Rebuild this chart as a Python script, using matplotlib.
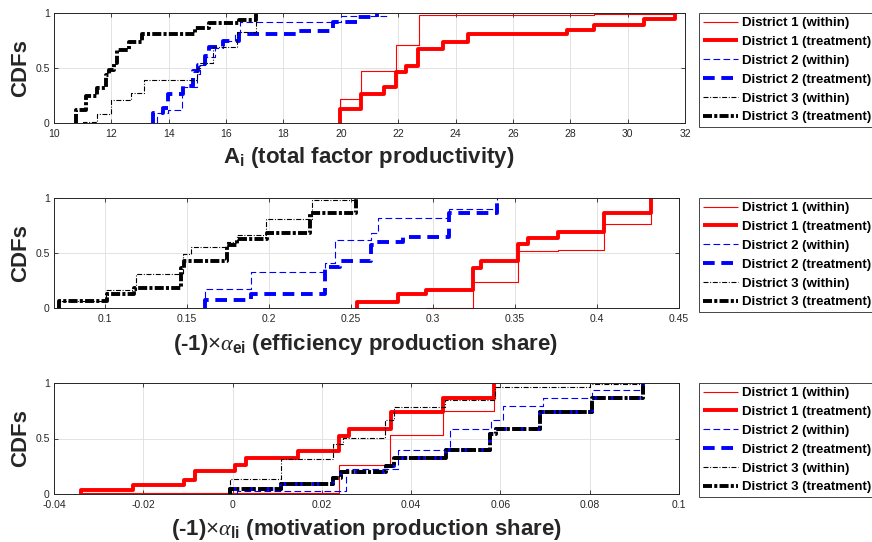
import numpy as np
import matplotlib
matplotlib.use('Agg')
import matplotlib.pyplot as plt

plt.rcParams['font.family'] = ['Liberation Sans', 'DejaVu Sans']
plt.rcParams['mathtext.fontset'] = 'custom'
plt.rcParams['mathtext.rm'] = 'Liberation Sans'
plt.rcParams['mathtext.bf'] = 'Liberation Sans:bold'
plt.rcParams['mathtext.it'] = 'Liberation Serif:italic'
plt.rcParams['lines.scale_dashes'] = False

labels = ['District 1 (within)', 'District 1 (treatment)',
          'District 2 (within)', 'District 2 (treatment)',
          'District 3 (within)', 'District 3 (treatment)']

# ---- panel 1 : A_i (total factor productivity)
tfp_d1_within_x = [19.97, 20.72, 21.92, 22.72, 28.84, 31.65]
tfp_d1_within_y = [0.22, 0.47, 0.71, 0.985, 0.995, 1.0]
tfp_d1_treat_x = [19.97, 20.72, 21.50, 21.94, 22.26, 22.70, 23.57, 24.44, 27.87, 28.84, 30.58, 31.65]
tfp_d1_treat_y = [0.13, 0.26, 0.33, 0.46, 0.52, 0.67, 0.74, 0.81, 0.85, 0.89, 0.95, 1.0]
tfp_d2_within_x = [13.60, 13.98, 14.45, 14.97, 15.08, 15.30, 15.60, 15.90, 16.30, 16.50, 20.00, 21.60]
tfp_d2_within_y = [0.09, 0.12, 0.33, 0.45, 0.53, 0.60, 0.68, 0.75, 0.82, 0.92, 0.97, 1.0]
tfp_d2_treat_x = [13.46, 13.80, 13.98, 14.50, 14.85, 15.02, 15.25, 15.40, 15.90, 16.45, 18.45, 19.73, 20.60, 21.26]
tfp_d2_treat_y = [0.09, 0.14, 0.26, 0.34, 0.47, 0.53, 0.61, 0.69, 0.75, 0.81, 0.84, 0.92, 0.96, 1.0]
tfp_d3_within_x = [11.00, 11.51, 11.98, 12.67, 13.14, 14.99, 15.10, 15.55, 16.38, 17.06]
tfp_d3_within_y = [0.01, 0.08, 0.21, 0.27, 0.39, 0.50, 0.545, 0.69, 0.83, 1.0]
tfp_d3_treat_x = [10.76, 11.10, 11.51, 11.80, 11.92, 12.09, 12.20, 12.61, 13.08, 14.93, 15.40, 16.44, 17.06]
tfp_d3_treat_y = [0.12, 0.25, 0.32, 0.44, 0.48, 0.545, 0.667, 0.736, 0.81, 0.86, 0.91, 0.94, 1.0]

# ---- panel 2 : efficiency production share
eff_d1_within_x = [0.2959, 0.3245, 0.3520, 0.3765, 0.4040, 0.4327]
eff_d1_within_y = [0.0, 0.24, 0.52, 0.53, 0.764, 1.0]
eff_d1_treat_x = [0.2535, 0.2786, 0.2959, 0.3245, 0.3296, 0.3520, 0.3580, 0.3765, 0.4040, 0.4327]
eff_d1_treat_y = [0.058, 0.127, 0.164, 0.36, 0.427, 0.579, 0.64, 0.688, 0.86, 1.0]
eff_d2_within_x = [0.1610, 0.1890, 0.2343, 0.2403, 0.2625, 0.2665, 0.3100, 0.3390]
eff_d2_within_y = [0.176, 0.327, 0.41, 0.62, 0.685, 0.82, 0.90, 1.0]
eff_d2_treat_x = [0.1610, 0.1890, 0.2343, 0.2433, 0.2625, 0.2653, 0.2820, 0.3100, 0.3390]
eff_d2_treat_y = [0.07, 0.13, 0.37, 0.424, 0.57, 0.60, 0.65, 0.86, 1.0]
eff_d3_within_x = [0.0718, 0.1008, 0.1191, 0.1476, 0.1526, 0.1745, 0.1808, 0.1984, 0.2260, 0.2524]
eff_d3_within_y = [0.06, 0.167, 0.31, 0.49, 0.555, 0.60, 0.667, 0.812, 0.985, 1.0]
eff_d3_treat_x = [0.0718, 0.1014, 0.1180, 0.1465, 0.1480, 0.1744, 0.1808, 0.1990, 0.2252, 0.2530]
eff_d3_treat_y = [0.06, 0.13, 0.18, 0.36, 0.424, 0.57, 0.63, 0.685, 0.867, 1.0]

# ---- panel 3 : motivation production share
mot_d1_within_x = [-0.0339, 0.0238, 0.0353, 0.0471, 0.0585]
mot_d1_within_y = [0.008, 0.257, 0.53, 0.75, 1.0]
mot_d1_treat_x = [-0.0339, -0.0222, -0.0108, -0.0085, 0.0005, 0.0031, 0.0146, 0.0238, 0.0260, 0.0355, 0.0471, 0.0585]
mot_d1_treat_y = [0.036, 0.082, 0.127, 0.203, 0.26, 0.326, 0.39, 0.52, 0.59, 0.74, 0.864, 1.0]
mot_d2_within_x = [0.0010, 0.0254, 0.0370, 0.0487, 0.0579, 0.0606, 0.0695, 0.0804, 0.0920]
mot_d2_within_y = [0.024, 0.227, 0.40, 0.59, 0.665, 0.795, 0.864, 0.94, 1.0]
mot_d2_treat_x = [-0.0005, 0.0109, 0.0225, 0.0243, 0.0343, 0.0362, 0.0479, 0.0576, 0.0590, 0.0688, 0.0804, 0.0920]
mot_d2_treat_y = [0.045, 0.09, 0.145, 0.196, 0.25, 0.32, 0.40, 0.54, 0.59, 0.74, 0.864, 1.0]
mot_d3_within_x = [-0.0006, 0.0109, 0.0225, 0.0247, 0.0341, 0.0362, 0.0475, 0.0587, 0.0800, 0.0920]
mot_d3_within_y = [0.136, 0.311, 0.447, 0.508, 0.668, 0.78, 0.846, 0.967, 0.99, 1.0]
mot_d3_treat_x = [-0.0005, 0.0109, 0.0225, 0.0243, 0.0343, 0.0362, 0.0479, 0.0576, 0.0590, 0.0688, 0.0804, 0.0920]
mot_d3_treat_y = [0.045, 0.09, 0.145, 0.196, 0.25, 0.32, 0.40, 0.54, 0.59, 0.74, 0.864, 1.0]

tfp_ticks = [10, 12, 14, 16, 18, 20, 22, 24, 26, 28, 30, 32]
eff_ticks = [0.1, 0.15, 0.2, 0.25, 0.3, 0.35, 0.4, 0.45]
mot_ticks = [-0.04, -0.02, 0, 0.02, 0.04, 0.06, 0.08, 0.1]
y_ticks = [0, 0.5, 1]

styles = [('red', 0.8, None), ('red', 2.8, None),
          ('blue', 0.8, (4.8, 2.4)), ('blue', 2.8, (8.4, 4.8)),
          ('black', 0.8, (3.6, 1.2, 0.7, 1.2)), ('black', 2.8, (6.5, 1.6, 2.2, 1.6))]

W, H = 872, 542
fig = plt.figure(figsize=(W / 100, H / 100), dpi=100)
GRAY = '#262626'


def panel(left, top, right, bottom, series, xlim, xticks, xlabel, xlab_x, xlab_base):
    ax = fig.add_axes([left / W, 1 - bottom / H, (right - left) / W, (bottom - top) / H])
    lines = []
    for (xs, ys), (c, lw, dash), lab in zip(series, styles, labels):
        x = np.r_[xs[0], xs]
        y = np.r_[0, ys]
        ln, = ax.step(x, y, where='post', color=c, lw=lw, label=lab, clip_on=False,
                      solid_capstyle='butt', dash_capstyle='butt')
        if dash is not None:
            ln.set_dashes(dash)
        lines.append(ln)
    ax.set_xlim(*xlim)
    ax.set_ylim(0, 1)
    ax.set_xticks(xticks)
    ax.set_xticklabels(['%g' % t for t in xticks])
    ax.set_yticks(y_ticks)
    ax.set_yticklabels(['0', '0.5', '1'])
    ax.grid(True, color='#dedede', lw=0.6)
    ax.set_axisbelow(True)
    ax.tick_params(direction='in', length=3, width=0.6, colors=GRAY, labelsize=7.5,
                   top=True, right=True, pad=4)
    ax.tick_params(axis='y', pad=3)
    for s in ax.spines.values():
        s.set_color(GRAY)
        s.set_linewidth(0.7)
    leg = fig.legend(handles=lines, loc='upper left',
                     bbox_to_anchor=(699 / W, 1 - top / H), bbox_transform=fig.transFigure,
                     prop={'weight': 'bold', 'size': 9.5},
                     handlelength=2.65, handletextpad=0.3, labelspacing=0.5,
                     borderpad=0.3, borderaxespad=0, fancybox=False, framealpha=1)
    leg.get_frame().set_edgecolor(GRAY)
    leg.get_frame().set_linewidth(0.6)
    fig.text(21 / W, 1 - ((top + bottom) / 2) / H, 'CDFs', rotation=90, ha='center',
             va='center', fontsize=16, fontweight='bold', color=GRAY)
    fig.text(xlab_x / W, 1 - xlab_base / H, xlabel, ha='center', va='baseline',
             fontsize=16, fontweight='bold', color=GRAY)
    return ax


panel(54, 13, 685, 123,
      [(tfp_d1_within_x, tfp_d1_within_y), (tfp_d1_treat_x, tfp_d1_treat_y),
       (tfp_d2_within_x, tfp_d2_within_y), (tfp_d2_treat_x, tfp_d2_treat_y),
       (tfp_d3_within_x, tfp_d3_within_y), (tfp_d3_treat_x, tfp_d3_treat_y)],
      (10, 32), tfp_ticks, r'A$_{\mathbf{i}}$ (total factor productivity)', 369, 163)

panel(54, 198, 679, 308,
      [(eff_d1_within_x, eff_d1_within_y), (eff_d1_treat_x, eff_d1_treat_y),
       (eff_d2_within_x, eff_d2_within_y), (eff_d2_treat_x, eff_d2_treat_y),
       (eff_d3_within_x, eff_d3_within_y), (eff_d3_treat_x, eff_d3_treat_y)],
      (0.069, 0.45), eff_ticks, r'(-1)$\times\alpha_{\mathbf{ei}}$ (efficiency production share)', 366, 350)

panel(54, 383, 679, 494,
      [(mot_d1_within_x, mot_d1_within_y), (mot_d1_treat_x, mot_d1_treat_y),
       (mot_d2_within_x, mot_d2_within_y), (mot_d2_treat_x, mot_d2_treat_y),
       (mot_d3_within_x, mot_d3_within_y), (mot_d3_treat_x, mot_d3_treat_y)],
      (-0.04, 0.1), mot_ticks, r'(-1)$\times\alpha_{\mathbf{li}}$ (motivation production share)', 366, 535)

fig.savefig('out.png', dpi=100)
